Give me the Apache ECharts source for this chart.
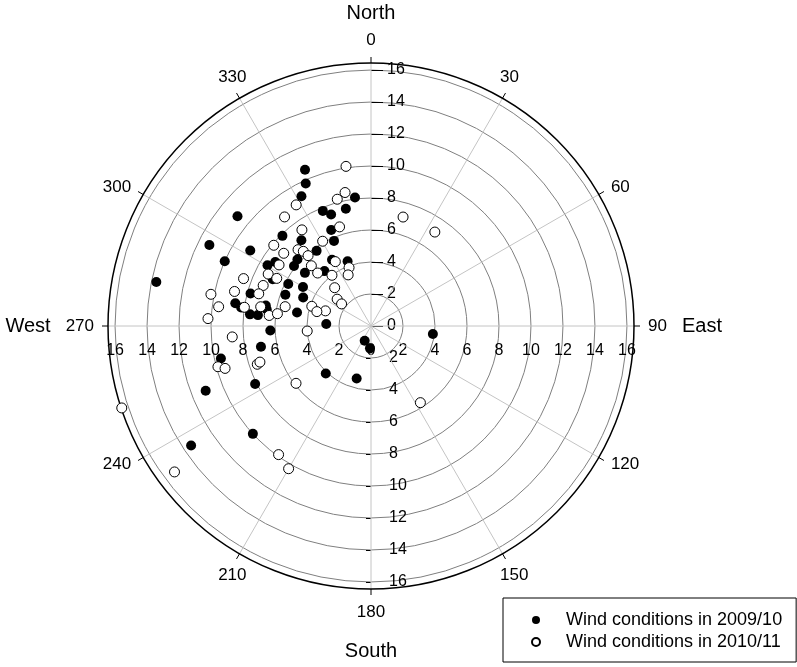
<!DOCTYPE html>
<html>
<head>
<meta charset="utf-8">
<script src="https://cdn.jsdelivr.net/npm/echarts@6/dist/echarts.min.js"></script>
<style>
  html, body { margin: 0; padding: 0; background: #fff; }
  #chart { width: 797px; height: 667px; }
</style>
</head>
<body>
<div id="chart"></div>
<script>
// wind speed (radius) and direction (deg, clockwise from north)
const speed0910 = [10.6, 9.8, 9.2, 8.1, 7.5, 7.8, 7.4, 6.5, 5.8, 7.9, 6.9, 5.8, 6.2, 6.1, 4.8, 4.3,
  7.2, 7.5, 5.3, 4.5, 6.8, 5.8, 4.9, 7.8, 5.7, 4.6, 6.7, 6.6, 4.7, 7.6, 7.1, 2.8, 6.3, 1.0, 1.4,
  10.8, 11.3, 8.9, 10.0, 13.7, 8.6, 8.2, 7.0, 9.6, 4.1, 3.4, 8.1, 11.1, 10.0, 13.5, 3.9]
const dir0910 = [337.1, 335.4, 331.8, 352.9, 347.9, 337.3, 340.3, 337.5, 336.5, 315.5, 320.9, 324.1,
  312.1, 307.9, 329.5, 340.1, 303.8, 300.4, 308.8, 319.7, 295.4, 296.9, 299.8, 285.1, 290.1, 292.8,
  281.0, 279.0, 280.3, 275.5, 275.5, 272.6, 267.4, 203.2, 182.6, 309.4, 296.6, 302.0, 293.9, 281.6,
  279.5, 278.1, 259.3, 257.8, 223.6, 195.3, 243.4, 248.6, 227.6, 236.4, 97.4]

const speed1011 = [10.1, 8.5, 8.2, 8.9, 7.1, 8.7, 6.5, 7.4, 6.1, 7.9, 6.6, 6.3, 7.1, 5.9, 4.6, 6.9,
  5.3, 3.9, 7.2, 4.7, 4.0, 3.5, 6.6, 7.2, 3.3, 2.7, 2.3, 7.3, 3.9, 5.5, 3.0, 3.5, 6.4, 5.9, 4.0,
  8.5, 8.8, 10.2, 9.6, 8.0, 7.0, 10.2, 8.7, 9.9, 9.5, 7.5, 7.3, 5.9, 16.4, 9.9, 10.3, 15.3, 7.1, 5.7]
const dir1011 = [351.1, 349.0, 345.1, 328.3, 16.4, 321.6, 342.4, 324.3, 330.3, 309.7, 316.3, 317.8,
  309.8, 318.2, 331.0, 303.6, 315.3, 339.4, 296.8, 314.8, 322.4, 335.9, 296.8, 290.6, 316.5, 308.4,
  306.9, 286.0, 288.4, 282.7, 288.4, 284.9, 275.9, 277.5, 265.5, 290.4, 284.2, 281.2, 277.2, 278.4,
  279.9, 272.6, 265.5, 255.1, 253.8, 251.4, 252.0, 232.6, 251.8, 215.7, 210.0, 233.4, 34.2, 147.2]

const seriesNames = ['Wind conditions in 2009/10', 'Wind conditions in 2010/11']
const ringLabels = [0, 2, 4, 6, 8, 10, 12, 14, 16]
const ringLabelsNoZero = [2, 4, 6, 8, 10, 12, 14, 16]
const angleTicks = [0, 30, 60, 90, 120, 150, 180, 210, 240, 270, 300, 330]
// angle labels split by how they sit against the rim
const angleLabelsAxis = [0, 90, 180, 270]
const angleLabelsSteep = [30, 150, 210, 330]
const angleLabelsFlat = [60, 120, 240, 300]
const rimValue = 16.44 // outer black circle sits a bit past the 16 ring

const FONT = 'Liberation Sans, Arial, sans-serif'
const CENTER = [371, 326]
const RADIUS = 263

const chart = echarts.init(document.getElementById('chart'), null, { renderer: 'canvas' })

const pairUp = (r, a) => r.map((v, i) => [v, a[i]])

// polars: 0 main, 1-3 extra radius label rows (E, S, W), 4-5 extra angle label rings
const polars = [0, 1, 2, 3, 4, 5].map(() => ({ center: CENTER, radius: RADIUS }))

const hiddenAngle = (idx, start) => ({
  polarIndex: idx, type: 'value', min: 0, max: 360, interval: 30,
  startAngle: start, clockwise: true, show: false
})

const angleLabelStyle = { margin: 14, fontSize: 17, lineHeight: 18, color: '#000', fontFamily: FONT }

const labelRing = (idx, values, padding) => ({
  polarIndex: idx, type: 'value', min: 0, max: 360, interval: 30,
  startAngle: 90, clockwise: true,
  axisLine: { show: false }, axisTick: { show: false }, splitLine: { show: false },
  axisLabel: Object.assign({ customValues: values, padding: padding }, angleLabelStyle)
})

const nameStyle = { fontSize: 20, color: '#000', fontFamily: FONT, align: 'center', verticalAlign: 'middle' }
const labelBase = { fontSize: 16, color: '#000', fontFamily: FONT }

const radiusBase = {
  type: 'value', min: 0, max: rimValue, interval: 2,
  nameLocation: 'end', nameRotate: 0, nameTextStyle: nameStyle,
  axisLine: { show: false },
  splitLine: { show: false }
}

const option = {
  animation: false,
  textStyle: { fontFamily: FONT },
  polar: polars,
  angleAxis: [
    {
      polarIndex: 0, type: 'value', min: 0, max: 360, interval: 30,
      startAngle: 90, clockwise: true, z: 1,
      axisLine: { show: true, lineStyle: { color: '#000', width: 1.5 } },
      axisTick: { show: true, length: 6, customValues: angleTicks, lineStyle: { color: '#000', width: 1 } },
      axisLabel: Object.assign({ customValues: angleLabelsAxis }, angleLabelStyle),
      splitLine: { show: true, lineStyle: { color: '#c4c4c4', width: 1 } }
    },
    hiddenAngle(1, 0),
    hiddenAngle(2, 270),
    hiddenAngle(3, 180),
    labelRing(4, angleLabelsSteep, [0, -14, 0, -9.5]),
    labelRing(5, angleLabelsFlat, [-9, 0, -9, 0])
  ],
  radiusAxis: [
    Object.assign({}, radiusBase, {
      polarIndex: 0, z: 0, name: 'North', nameGap: 50,
      axisTick: { show: true, length: -12, customValues: ringLabels, lineStyle: { color: '#000' } },
      axisLabel: Object.assign({ margin: -16, align: 'left', verticalAlign: 'middle', customValues: ringLabels }, labelBase),
      splitLine: { show: true, lineStyle: { color: '#7f7f7f', width: 1 } }
    }),
    Object.assign({}, radiusBase, {
      polarIndex: 1, name: 'East', nameGap: 68,
      axisTick: { show: false },
      axisLabel: Object.assign({ margin: -17, align: 'center', verticalAlign: 'top', customValues: ringLabels }, labelBase)
    }),
    Object.assign({}, radiusBase, {
      polarIndex: 2, name: 'South', nameGap: 62,
      axisTick: { show: true, length: -5, customValues: ringLabelsNoZero, lineStyle: { color: '#000' } },
      axisLabel: Object.assign({ margin: 18, align: 'left', verticalAlign: 'middle', customValues: ringLabelsNoZero }, labelBase)
    }),
    Object.assign({}, radiusBase, {
      polarIndex: 3, name: 'West', nameGap: 80,
      axisTick: { show: false },
      axisLabel: Object.assign({ margin: 17, align: 'center', verticalAlign: 'top', customValues: ringLabelsNoZero }, labelBase)
    }),
    { polarIndex: 4, type: 'value', min: 0, max: rimValue, show: false },
    { polarIndex: 5, type: 'value', min: 0, max: rimValue, show: false }
  ],
  legend: {
    orient: 'vertical', left: 503, top: 598,
    padding: [12, 14, 10, 28], itemGap: 2, itemWidth: 50, itemHeight: 8,
    borderColor: '#000', borderWidth: 1, borderRadius: 0, backgroundColor: '#fff',
    icon: 'circle', selectedMode: false,
    textStyle: { fontSize: 18, lineHeight: 20, color: '#000', fontFamily: FONT },
    data: seriesNames
  },
  series: [
    {
      name: seriesNames[0], type: 'scatter', coordinateSystem: 'polar', polarIndex: 0,
      symbol: 'circle', symbolSize: 10, z: 3,
      itemStyle: { color: '#000', opacity: 1 },
      data: pairUp(speed0910, dir0910)
    },
    {
      name: seriesNames[1], type: 'scatter', coordinateSystem: 'polar', polarIndex: 0,
      symbol: 'circle', symbolSize: 10, z: 4,
      itemStyle: { color: '#fff', borderColor: '#000', borderWidth: 1, opacity: 1 },
      data: pairUp(speed1011, dir1011)
    }
  ]
}

chart.setOption(option)
</script>
</body>
</html>
